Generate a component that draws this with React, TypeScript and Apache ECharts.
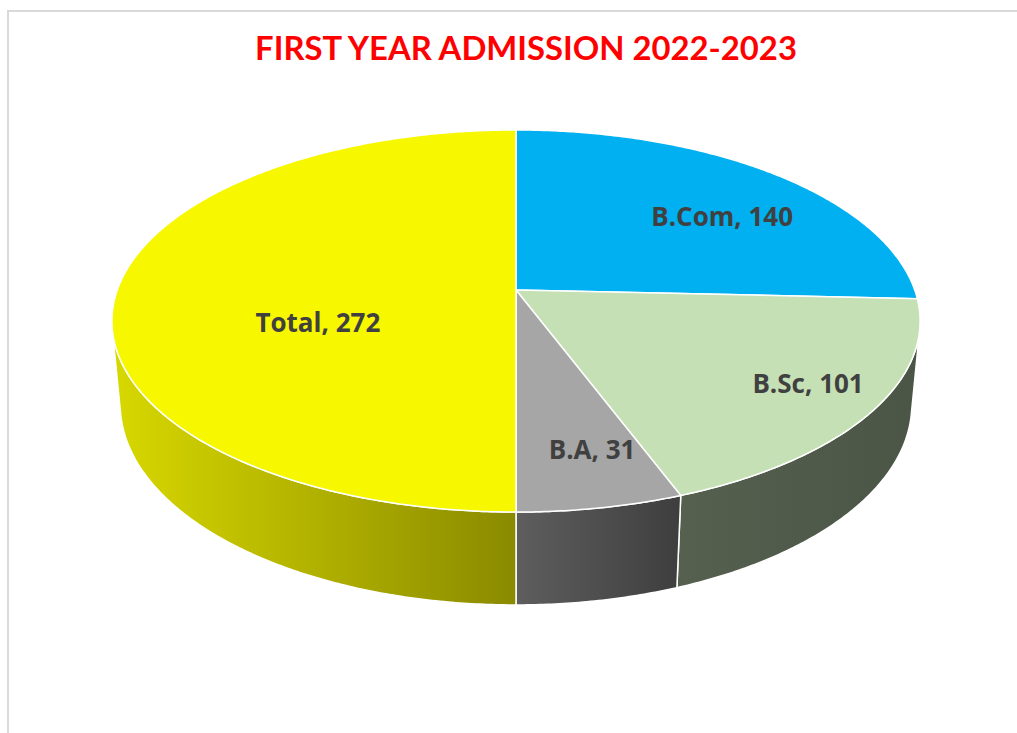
import React, { useEffect, useRef } from "react";
import * as echarts from "echarts";

const TITLE = "FIRST YEAR ADMISSION 2022-2023";
const CATEGORIES = ["B.Com", "B.Sc", "B.A", "Total"];
const VALUES = [140, 101, 31, 272];

// styling (kept separate from data)
const TOP_COLORS = ["#00b0f0", "#c5e0b4", "#a6a6a6", "#f7f700"];
const SIDE_COLORS = [
  ["#006d94", "#005a7a"],
  ["#56604f", "#4b5546"],
  ["#5e5e5e", "#3e3e3e"],
  ["#d8d800", "#8a8a00"],
];
const LABEL_R = [0.777, 0.834, 0.9145, 0.497];
const LABEL_DY = [18, -6, -37, 32];

// perspective camera of the 3D pie
const CX = 516;
const CY = 290;
const FOCAL = 2173;
const DIST = 5.45;
const SIN_E = 0.4665;
const COS_E = 0.8845;
const DEPTH = 0.239;

function proj(theta: number, r: number, z: number): number[] {
  const X = r * Math.sin(theta);
  const Y = r * Math.cos(theta);
  const d = DIST + Y * COS_E - z * SIN_E;
  const yc = Y * SIN_E + z * COS_E;
  return [CX + (FOCAL * X) / d, CY - (FOCAL * yc) / d];
}

function arc(a: number, b: number, r: number, z: number): number[][] {
  const steps = Math.max(2, Math.ceil(Math.abs(b - a) / (Math.PI / 360)));
  const pts: number[][] = [];
  for (let k = 0; k <= steps; k++) {
    pts.push(proj(a + ((b - a) * k) / steps, r, z));
  }
  return pts;
}

export default function App() {
  const ref = useRef<HTMLDivElement>(null);
  useEffect(() => {
    if (!ref.current) return;
    const chart = echarts.init(ref.current, undefined, { renderer: "svg" });
    const total = VALUES.reduce((s, v) => s + v, 0);
    const starts: number[] = [];
    let acc = 0;
    VALUES.forEach((v) => {
      starts.push((acc / total) * Math.PI * 2);
      acc += v;
    });
    const visLimit = Math.acos(-1 / (DIST * COS_E));
    const visA = visLimit;
    const visB = Math.PI * 2 - visLimit;

    const data = VALUES.map((v, i) => ({ name: CATEGORIES[i], value: v }));

    chart.setOption({
      animation: false,
      backgroundColor: "#ffffff",
      title: {
        text: TITLE,
        left: 521,
        top: 26,
        textAlign: "center",
        textStyle: {
          color: "#ff0000",
          fontWeight: "bold",
          fontSize: 32.8,
          fontFamily: "Lato",
        },
      },
      graphic: [
        {
          type: "rect",
          silent: true,
          shape: { x: 8, y: 11, width: 1200, height: 900 },
          style: { fill: "none", stroke: "#d9d9d9", lineWidth: 2 },
        },
      ],
      series: [
        {
          type: "custom",
          name: "sides",
          coordinateSystem: "none",
          z: 1,
          data,
          renderItem: (params: any, api: any) => {
            const i = params.dataIndex;
            const v = api.value(0);
            const a0 = starts[i];
            const b0 = a0 + (v / total) * Math.PI * 2;
            const a = Math.max(a0, visA);
            const b = Math.min(b0, visB);
            if (b <= a) return { type: "group", children: [] };
            const top = arc(a, b, 1, 0);
            const bottom = arc(b, a, 1, -DEPTH);
            return {
              type: "polygon",
              shape: { points: top.concat(bottom) },
              style: {
                fill: new echarts.graphic.LinearGradient(0, 0, 1, 0, [
                  { offset: 0, color: SIDE_COLORS[i][0] },
                  { offset: 1, color: SIDE_COLORS[i][1] },
                ]),
                stroke: "#ffffff",
                lineWidth: 1.5,
                lineJoin: "round",
              },
            };
          },
        },
        {
          type: "custom",
          name: "tops",
          coordinateSystem: "none",
          z: 2,
          data,
          renderItem: (params: any, api: any) => {
            const i = params.dataIndex;
            const v = api.value(0);
            const a = starts[i];
            const b = a + (v / total) * Math.PI * 2;
            const pts = [proj(0, 0, 0)].concat(arc(a, b, 1, 0));
            const mid = (a + b) / 2;
            const lp = proj(mid, LABEL_R[i], 0);
            return {
              type: "group",
              children: [
                {
                  type: "polygon",
                  shape: { points: pts },
                  style: {
                    fill: TOP_COLORS[i],
                    stroke: "#ffffff",
                    lineWidth: 1.5,
                    lineJoin: "round",
                  },
                },
                {
                  type: "text",
                  z2: 10,
                  x: lp[0],
                  y: lp[1] + LABEL_DY[i],
                  style: {
                    text: CATEGORIES[i] + ", " + v,
                    fill: "#404040",
                    fontSize: 26,
                    fontWeight: "bold",
                    fontFamily: "Open Sans",
                    textAlign: "center",
                    textVerticalAlign: "middle",
                    align: "center",
                    verticalAlign: "middle",
                  },
                },
              ],
            };
          },
        },
      ],
    });
    return () => chart.dispose();
  }, []);
  return (
    <div
      ref={ref}
      style={{ position: "fixed", left: 0, top: 0, width: 1017, height: 733 }}
    />
  );
}
